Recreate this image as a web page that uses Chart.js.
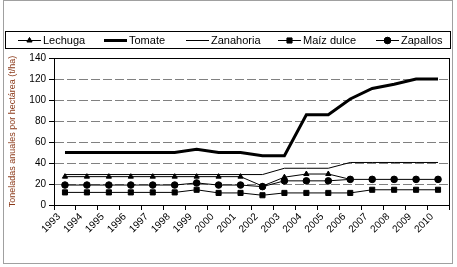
<!DOCTYPE html>
<html>
<head>
<meta charset="utf-8">
<script src="https://cdn.jsdelivr.net/npm/chart.js@4"></script>
<style>
  html, body { margin: 0; padding: 0; background: #fff; }
</style>
</head>
<body>
<canvas id="produccion" width="457" height="267"></canvas>
<script>
const years = ['1993', '1994', '1995', '1996', '1997', '1998', '1999', '2000', '2001',
    '2002', '2003', '2004', '2005', '2006', '2007', '2008', '2009', '2010'];

const lechuga = [27, 27, 27, 27, 27, 27, 27, 27, 27, 18, 26.5, 29.5, 29.5, 24.4, null, null, null, null];
const tomate = [50, 50, 50, 50, 50, 50, 53, 50, 50, 47, 47, 86, 86, 101, 111, 115, 120, 120];
const zanahoria = [29, 29, 29, 29, 29, 29, 29, 29, 29, 29, 35, 35, 35, 40.5, 40.5, 40.5, 40.5, 40.5];
const maiz = [12, 12, 12, 12, 12, 12, 14.5, 11.5, 11.5, 9.3, 11.5, 11.5, 11.5, 11.5, 14.5, 14.5, 14.5, 14.5];
const zapallos = [19, 19, 19, 19, 19, 19, 21, 19, 19, 17.5, 23, 23, 23, 24.4, 24.4, 24.4, 24.4, 24.4];

const yTicks = [0, 20, 40, 60, 80, 100, 120, 140];

const ctx = document.getElementById('produccion');

// fondo, marco exterior y leyenda dibujados a mano (estilo Excel)
const marcoExcel = {
    id: 'marcoExcel',
    beforeDraw(chart) {
        const c = chart.ctx;
        c.save();
        c.fillStyle = '#fff';
        c.fillRect(0, 0, chart.width, chart.height);
        c.strokeStyle = '#a0a0a0';
        c.lineWidth = 1;
        c.strokeRect(3.5, 0.5, 449, 263);
        c.restore();
    },
    beforeDatasetsDraw(chart) {
        // borde del area de trazado
        const a = chart.chartArea;
        const c = chart.ctx;
        c.save();
        c.strokeStyle = '#000';
        c.lineWidth = 1;
        c.strokeRect(Math.round(a.left) + 0.5, Math.round(a.top) + 0.5,
            Math.round(a.right - a.left), Math.round(a.bottom - a.top));
        c.restore();
    },
    afterDraw(chart) {
        const c = chart.ctx;
        c.save();
        c.strokeStyle = '#000';
        c.lineWidth = 1;
        c.strokeRect(5.5, 31.5, 445, 17);
        const xs = [18, 104, 186, 278, 376];
        const y = 40.5;
        c.font = '11px "Liberation Sans", Arial, sans-serif';
        c.textBaseline = 'middle';
        c.fillStyle = '#000';
        chart.data.datasets.forEach((ds, i) => {
            const x0 = xs[i], x1 = x0 + 23;
            c.beginPath();
            c.lineWidth = ds.borderWidth;
            c.strokeStyle = '#000';
            c.moveTo(x0, y);
            c.lineTo(x1, y);
            c.stroke();
            if (ds.pointRadius > 0) {
                c.lineWidth = 1;
                Chart.helpers.drawPoint(c, {
                    pointStyle: ds.pointStyle,
                    radius: ds.pointRadius,
                    borderWidth: 1
                }, (x0 + x1) / 2, y);
                c.fill();
            }
            c.fillText(ds.label, x1 + 2, y + 0.5);
        });
        c.restore();
    }
};

const serie = (label, data, width, style, radius) => ({
    label: label,
    data: data,
    borderColor: '#000',
    backgroundColor: '#000',
    borderWidth: width,
    pointStyle: style,
    pointRadius: radius,
    pointHoverRadius: radius,
    pointBorderWidth: 1,
    tension: 0,
    spanGaps: false
});

new Chart(ctx, {
    type: 'line',
    data: {
        labels: years,
        datasets: [
            serie('Lechuga', lechuga, 1, 'triangle', 3),
            serie('Tomate', tomate, 3, 'circle', 0),
            serie('Zanahoria', zanahoria, 1, 'circle', 0),
            serie('Maíz dulce', maiz, 1, 'rect', 3.6),
            serie('Zapallos', zapallos, 1, 'circle', 3.3)
        ]
    },
    options: {
        responsive: false,
        animation: false,
        devicePixelRatio: 1,
        layout: {
            padding: { left: 4, right: 8, top: 58, bottom: 0 }
        },
        plugins: {
            legend: { display: false },
            tooltip: { enabled: false }
        },
        scales: {
            x: {
                type: 'category',
                offset: true,
                afterFit: (scale) => { scale.height = 62; },
                border: { color: '#000', width: 1 },
                grid: {
                    offset: true,
                    drawOnChartArea: false,
                    drawTicks: true,
                    tickLength: 5,
                    tickColor: '#000'
                },
                ticks: {
                    color: '#000',
                    font: { family: '"Liberation Sans", Arial, sans-serif', size: 10 },
                    minRotation: 45,
                    maxRotation: 45,
                    autoSkip: false,
                    labelOffset: -6,
                    padding: 1
                }
            },
            y: {
                min: 0,
                max: 140,
                afterFit: (scale) => { scale.width = 50; },
                afterBuildTicks: (scale) => { scale.ticks = yTicks.map(v => ({ value: v })); },
                border: { color: '#000', width: 1, dash: [9, 3] },
                grid: {
                    color: '#808080',
                    tickBorderDash: [],
                    tickColor: '#000',
                    tickLength: 5,
                    lineWidth: 1
                },
                ticks: {
                    color: '#000',
                    font: { family: '"Liberation Sans", Arial, sans-serif', size: 10 },
                    padding: 3
                },
                title: {
                    display: true,
                    text: 'Toneladas anuales por hectárea (t/ha)',
                    color: '#8b3a1a',
                    font: { family: '"Liberation Sans", Arial, sans-serif', size: 9 },
                    padding: { top: 3, bottom: 4 }
                }
            }
        }
    },
    plugins: [marcoExcel]
});
</script>
</body>
</html>
